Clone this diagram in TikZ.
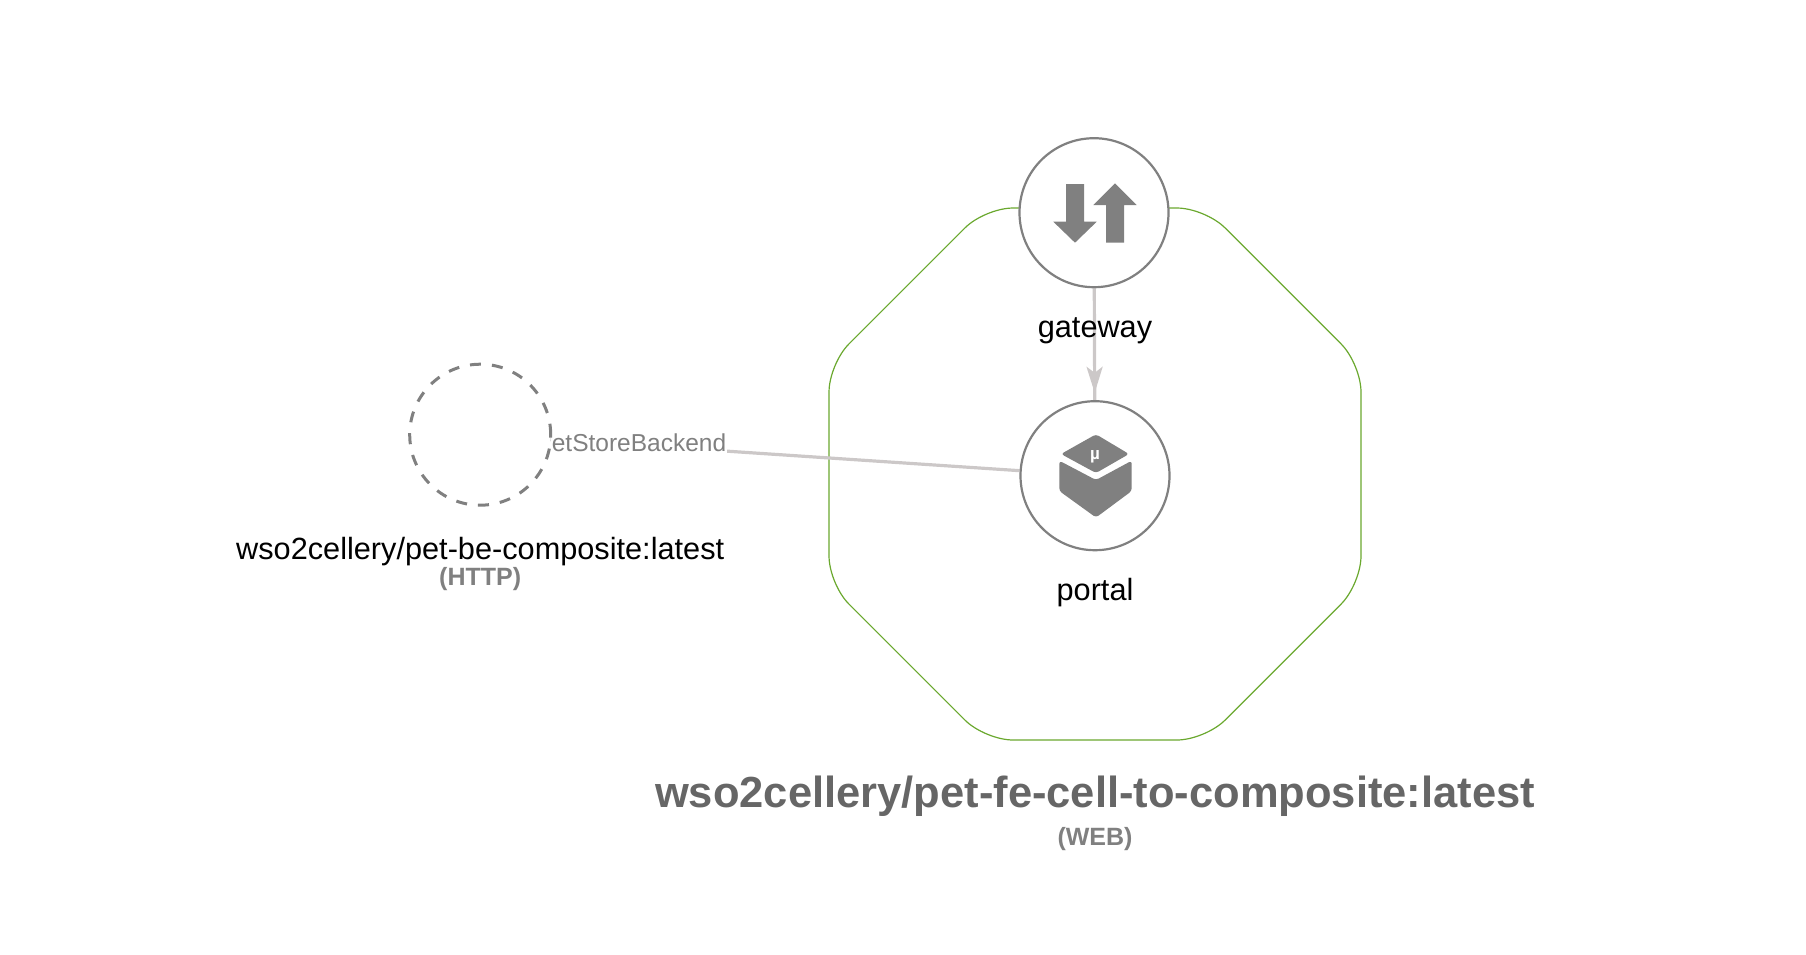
\documentclass[tikz,border=0pt]{standalone}
\usepackage{fontspec}
\setmainfont{Liberation Sans}
\usetikzlibrary{arrows.meta,decorations.markings,shapes.geometric}
\definecolor{cellgreen}{HTML}{6AA82E}
\definecolor{nodegrey}{HTML}{808080}
\definecolor{linkgrey}{HTML}{CCC8C8}
\definecolor{titlegrey}{HTML}{666666}
\pgfdeclarelayer{links}
\pgfsetlayers{links,main}
\begin{document}
\begin{tikzpicture}[
        x=1pt, y=-1pt,
        component/.style={circle, draw=nodegrey, line width=2.2pt, fill=white, minimum size=149pt, inner sep=0pt},
        external/.style={circle, draw=nodegrey, line width=3pt, dash pattern=on 11pt off 11pt, fill=white, minimum size=141pt, inner sep=0pt},
        cellbox/.style={regular polygon, regular polygon sides=8, draw=cellgreen, line width=1.2pt, minimum size=575.8pt, inner sep=0pt, rounded corners=28pt},
        link/.style={draw=linkgrey, line width=3.2pt},
        namelabel/.style={anchor=base, inner sep=0pt, font=\fontsize{30.7}{36}\selectfont},
        kindlabel/.style={anchor=base, inner sep=0pt, text=nodegrey, font=\fontsize{25}{30}\selectfont\bfseries},
        linklabel/.style={anchor=base east, fill=white, inner sep=1pt, text=nodegrey, font=\fontsize{24.5}{29}\selectfont},
        icon/.style={fill=nodegrey}
    ]
        \useasboundingbox (0,0) rectangle (1806,954);

        \node[component] (gateway) at (1094,212.7) {};
        \node[component] (portal) at (1095,475.7) {};
        \node[external] (backend) at (480.2,434.7) {};

        \begin{pgfonlayer}{links}
            \node[cellbox] (cell) at (1095,474) {};
            \draw[link, postaction={decorate}, decoration={markings, mark=at position 0.935 with {\arrow{Stealth[length=26pt, width=16pt, inset=6pt]}}}] (gateway) -- (portal);
            \draw[link] (portal) -- (backend);
            \node[linklabel] (backendlink) at (727.4,451.7) {PetStoreBackend};
        \end{pgfonlayer}

        % Gateway icon
        \fill[icon] (1066,184) -- (1084,184) -- (1084,221.7) -- (1096.7,221.7) -- (1075,242.7) -- (1053.3,221.7) -- (1066,221.7) -- cycle;
        \fill[icon] (1106,242.7) -- (1124,242.7) -- (1124,205) -- (1136.7,205) -- (1115,183.3) -- (1093.3,205) -- (1106,205) -- cycle;

        % Portal icon
        \fill[icon, rounded corners=3pt] (1096,434.3) -- (1129,454) -- (1096,473) -- (1061,454) -- cycle;
        \fill[icon, rounded corners=3pt] (1059.3,460.7) -- (1096,480) -- (1131.7,460.7) -- (1131.7,491) -- (1096,517.5) -- (1059.3,491) -- cycle;
        \node[anchor=base, inner sep=0pt, text=white, font=\fontsize{17}{20}\selectfont\bfseries] (micro) at (1095,459) {µ};

        \node[namelabel] (gatewayname) at (1095,337.3) {gateway};
        \node[namelabel] (portalname) at (1095,600.6) {portal};
        \node[namelabel] (backendname) at (480.2,559.3) {wso2cellery/pet-be-composite:latest};
        \node[kindlabel] (backendkind) at (480.2,585) {(HTTP)};
        \node[anchor=base, inner sep=0pt, text=titlegrey, font=\fontsize{43.5}{50}\selectfont\bfseries] (cellname) at (1095,807) {wso2cellery/pet-fe-cell-to-composite:latest};
        \node[kindlabel] (cellkind) at (1095,845) {(WEB)};
    \end{tikzpicture}
\end{document}
